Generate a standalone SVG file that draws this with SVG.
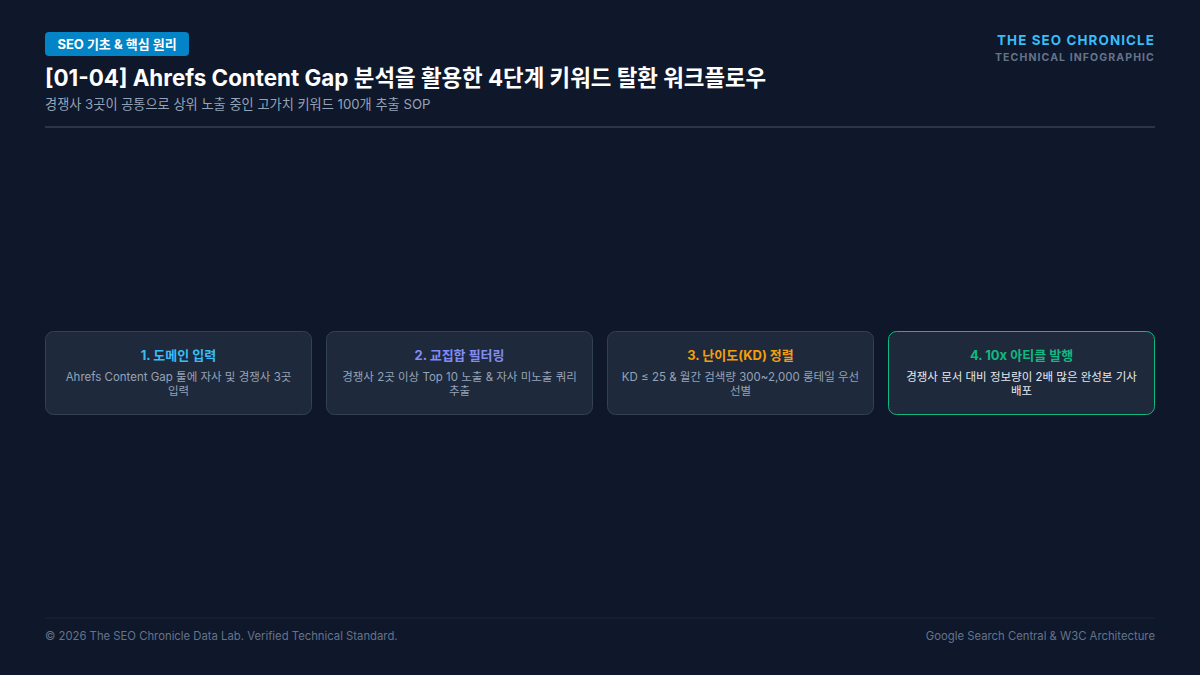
<svg xmlns="http://www.w3.org/2000/svg" width="1200" height="675" viewBox="0 0 1200 675">
<style>
text{font-family:Inter,"Noto Sans CJK KR","Noto Sans",sans-serif}
.card{fill:#1e293b;stroke:#334155;stroke-width:1}
.ct{font-size:13px;font-weight:700;text-anchor:middle}
.cd{font-size:11.5px;fill:#94a3b8;text-anchor:middle}
.ft{font-size:11.3px;fill:#64748b}
</style>
<rect width="1200" height="675" fill="#0f172a"/>
<g id="header">
<rect x="45" y="32" width="144" height="24" rx="4" fill="#0284c7"/>
<text x="117" y="49" font-size="13" font-weight="700" fill="#ffffff" text-anchor="middle">SEO 기초 &amp; 핵심 원리</text>
<text x="45" y="86" font-size="22.4" font-weight="700" fill="#ffffff">[01-04] Ahrefs Content Gap 분석을 활용한 4단계 키워드 탈환 워크플로우</text>
<text x="45" y="109" font-size="13.2" fill="#94a3b8">경쟁사 3곳이 공통으로 상위 노출 중인 고가치 키워드 100개 추출 SOP</text>
<text x="1155" y="45" font-size="13.4" font-weight="700" fill="#38bdf8" text-anchor="end" letter-spacing="1.1">THE SEO CHRONICLE</text>
<text x="1155" y="61" font-size="10.5" font-weight="700" fill="#64748b" text-anchor="end" letter-spacing="1.1">TECHNICAL INFOGRAPHIC</text>
<line x1="45" y1="127" x2="1155" y2="127" stroke="#334155" stroke-width="1.5"/>
</g>
<g id="connectors"></g>
<g id="step1">
<rect class="card" x="45.5" y="331.5" width="266" height="83" rx="8"/>
<text class="ct" x="178.5" y="360" fill="#38bdf8">1. 도메인 입력</text>
<text class="cd" x="178.5" y="381">Ahrefs Content Gap 툴에 자사 및 경쟁사 3곳</text>
<text class="cd" x="178.5" y="395">입력</text>
</g>
<g id="step2">
<rect class="card" x="326.5" y="331.5" width="266" height="83" rx="8"/>
<text class="ct" x="459.5" y="360" fill="#818cf8">2. 교집합 필터링</text>
<text class="cd" x="459.5" y="381">경쟁사 2곳 이상 Top 10 노출 &amp; 자사 미노출 쿼리</text>
<text class="cd" x="459.5" y="395">추출</text>
</g>
<g id="step3">
<rect class="card" x="607.5" y="331.5" width="266" height="83" rx="8"/>
<text class="ct" x="740.5" y="360" fill="#f59e0b">3. 난이도(KD) 정렬</text>
<text class="cd" x="740.5" y="381">KD ≤ 25 &amp; 월간 검색량 300~2,000 롱테일 우선</text>
<text class="cd" x="740.5" y="395">선별</text>
</g>
<g id="step4">
<rect x="888.5" y="331.5" width="266" height="83" rx="8" fill="#1e293b" stroke="#10b981" stroke-width="1"/>
<text class="ct" x="1021.5" y="360" fill="#10b981">4. 10x 아티클 발행</text>
<text class="cd" x="1021.5" y="381" style="fill:#e2e8f0">경쟁사 문서 대비 정보량이 2배 많은 완성본 기사</text>
<text class="cd" x="1021.5" y="395" style="fill:#e2e8f0">배포</text>
</g>
<g id="footer">
<line x1="45" y1="618" x2="1155" y2="618" stroke="#1e293b" stroke-width="1"/>
<text class="ft" x="45" y="640">© 2026 The SEO Chronicle Data Lab. Verified Technical Standard.</text>
<text class="ft" x="1155" y="640" text-anchor="end">Google Search Central &amp; W3C Architecture</text>
</g>
</svg>
